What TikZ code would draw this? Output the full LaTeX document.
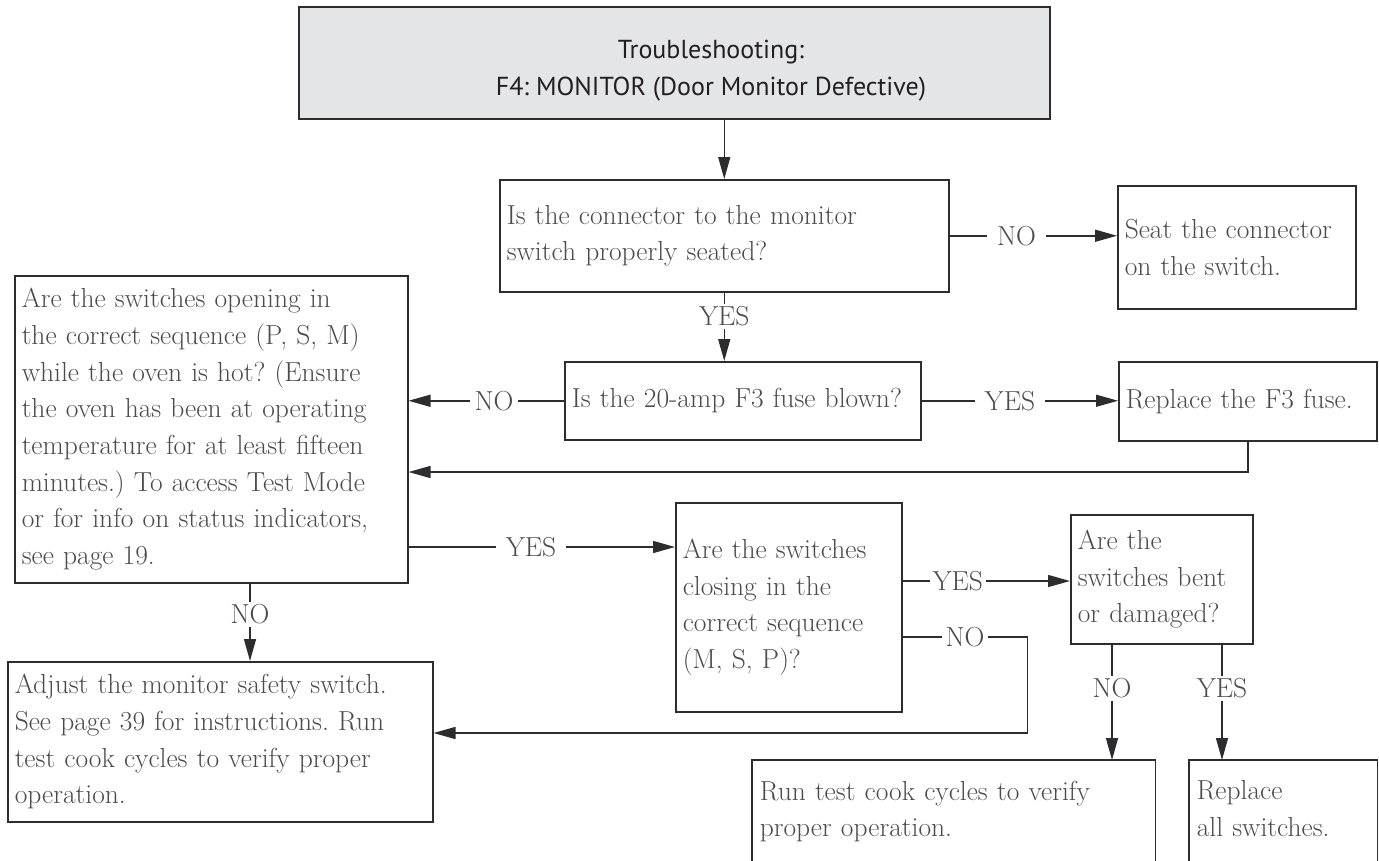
\documentclass[tikz,border=0pt]{standalone}
\usepackage{fontspec}
\setsansfont{PT Sans}
\usepackage{tikz}
\usetikzlibrary{arrows.meta,positioning}
\definecolor{inkgray}{RGB}{74,75,77}
\definecolor{wire}{RGB}{45,45,47}
\definecolor{headfill}{RGB}{228,229,231}
\definecolor{headink}{RGB}{35,31,32}
\newcommand{\flowfont}{\fontsize{27.5}{36.7}\selectfont}
\frenchspacing

\begin{document}
\begin{tikzpicture}[x=1pt,y=-1pt,
  box/.style={draw=wire,line width=1.5pt,anchor=north west,inner xsep=7pt,inner ysep=0pt,
    align=left,text=inkgray,font=\flowfont},
  openbox/.style={box,draw=none,inner ysep=20pt},
  arr/.style={draw=wire,line width=1.5pt,-{Triangle[length=22pt,width=12pt]}},
  lbl/.style={fill=white,text=inkgray,font=\flowfont,inner xsep=10pt,inner ysep=1pt}]
  \useasboundingbox (0,0) rectangle (1379,860);
  \clip (0,0) rectangle (1379,860);
  % heading
  \node[box,fill=headfill,minimum width=751pt,minimum height=112pt] (title) at (298,6) {};
  \node[align=center,text=headink,font=\sffamily\fontsize{26}{37}\selectfont] (titletext) at (711,71)
    {Troubleshooting:\\F4: MONITOR (Door Monitor Defective)};
  % questions and actions
  \node[box,minimum width=449pt,minimum height=112pt,text width=435pt] (seated) at (499,179)
    {Is the connector to the monitor\\switch properly seated?};
  \node[box,minimum width=238pt,minimum height=123pt,text width=224pt] (seat) at (1117,185)
    {Seat the connector\\on the switch.};
  \node[box,minimum width=393pt,minimum height=307pt,text width=379pt] (opening) at (14,275)
    {Are the switches opening in\\the correct sequence (P, S, M)\\while the oven is hot? (Ensure\\the oven has been at operating\\temperature for at least fifteen\\minutes.) To access Test Mode\\or for info on status indicators,\\see page 19.};
  \node[box,minimum width=356pt,minimum height=78pt,text width=342pt] (blown) at (564,361)
    {Is the 20-amp F3 fuse blown?};
  \node[box,minimum width=258pt,minimum height=79pt,text width=244pt] (fuse) at (1118,361)
    {Replace the F3 fuse.};
  \node[box,minimum width=226pt,minimum height=209pt,text width=212pt] (closing) at (675,502)
    {Are the switches\\closing in the\\correct sequence\\(M, S, P)?};
  \node[box,minimum width=182pt,minimum height=129pt,text width=168pt] (bent) at (1070,514)
    {Are the\\switches bent\\or damaged?};
  \node[box,minimum width=425pt,minimum height=160pt,text width=411pt] (adjust) at (7,661)
    {Adjust the monitor safety switch.\\See page 39 for instructions. Run\\test cook cycles to verify proper\\operation.};
  \node[openbox,minimum width=402pt,text width=388pt] (runtest) at (752,760)
    {Run test cook cycles to verify\\proper operation.};
  \node[openbox,minimum width=187pt,text width=173pt] (swap) at (1189,760)
    {Replace\\all switches.};
  % open bottoms
  \draw[wire,line width=1.5pt] ([yshift=-140pt]runtest.north west) -- (runtest.north west)
    -- (runtest.north east) -- ([yshift=-140pt]runtest.north east);
  \draw[wire,line width=1.5pt] ([yshift=-140pt]swap.north west) -- (swap.north west)
    -- (swap.north east) -- ([yshift=-140pt]swap.north east);
  % connectors
  \draw[arr] (title.south -| seated.north) -- (seated.north);
  \draw[arr] (seated.east) -- node[lbl,pos=.4]{NO} (seated.east -| seat.west);
  \draw[arr] (seated.south) -- node[lbl,pos=.35,inner ysep=3pt]{YES} (seated.south |- blown.north);
  \draw[arr] (blown.west) -- node[lbl,pos=.45,inner xsep=5pt]{NO} (blown.west -| opening.east);
  \draw[arr] (blown.east) -- node[lbl,pos=.45]{YES} (blown.east -| fuse.west);
  \draw[arr] (fuse.south) |- (opening.east |- 0,472);
  \draw[arr] (opening.east |- 0,547) -- node[lbl,pos=.46]{YES} (closing.west |- 0,547);
  \draw[arr] (closing.east |- 0,581) -- node[lbl,pos=.33,inner xsep=3pt]{YES} (bent.west |- 0,581);
  \draw[arr] (closing.east |- 0,637) -- node[lbl,inner xsep=4pt]{NO} ++(125,0) |- (adjust.east |- 0,733);
  \draw[arr] (opening.south -| 250,0) -- node[lbl,pos=.4,inner ysep=3pt]{NO} (adjust.north -| 250,0);
  \draw[arr] (bent.south -| 1112,0) -- node[lbl,pos=.38,inner ysep=3pt]{NO} (runtest.north -| 1112,0);
  \draw[arr] (bent.south -| 1222,0) -- node[lbl,pos=.38,inner ysep=3pt]{YES} (swap.north -| 1222,0);
\end{tikzpicture}
\end{document}
